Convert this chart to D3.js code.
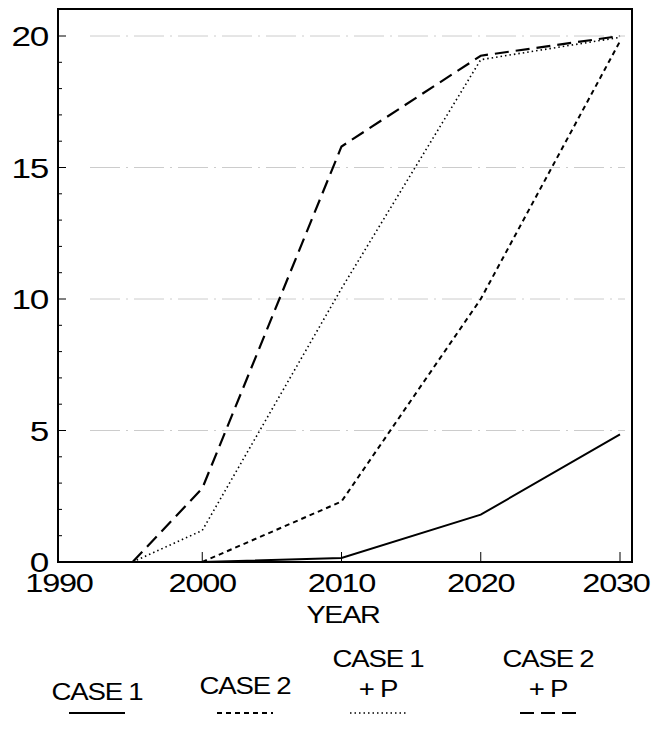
<!DOCTYPE html>
<html><head><meta charset="utf-8">
<script src="https://cdn.jsdelivr.net/npm/d3@7"></script>
<style>body{margin:0;background:#fff}text{font-family:"Liberation Sans",Arial,sans-serif;fill:#000}</style>
</head><body><svg id="c" width="669" height="743"></svg>
<script>
const years = [1990, 2000, 2010, 2020, 2030];
const yTicks = [0, 5, 10, 15, 20];
const case1 = [[1990, 0], [2000, 0], [2010, 0.15], [2020, 1.8], [2030, 4.85]];
const case2 = [[2000, 0], [2010, 2.3], [2020, 10], [2030, 19.8]];
const case1P = [[1995, 0], [2000, 1.2], [2010, 10.4], [2020, 19.1], [2030, 19.95]];
const case2P = [[1995, 0], [2000, 2.8], [2010, 15.8], [2020, 19.25], [2030, 20]];
const seriesNames = [["CASE 1"], ["CASE 2"], ["CASE 1", "+ P"], ["CASE 2", "+ P"]];

const svg = d3.select("#c");
const x = d3.scaleLinear().domain([1990, 2030]).range([63, 620]);
const y = d3.scaleLinear().domain([0, 20]).range([562, 36]);
const styles = [
  {dash: null, w: 2},
  {dash: "5,4", w: 2},
  {dash: "1.5,3", w: 1.6},
  {dash: "14,7", w: 2.2}
];

// stretched text helper (reference type is wide)
function label(px, py, t, size, anchor, sx) {
  svg.append("text")
    .attr("transform", `translate(${px},${py}) scale(${sx || 1.3},1)`)
    .attr("text-anchor", anchor || "middle")
    .style("font-size", size + "px").style("letter-spacing", "-1px").text(t);
}

// faint grid
svg.selectAll(".grid").data(yTicks.slice(1)).enter().append("line")
  .attr("x1", 90).attr("x2", 625)
  .attr("y1", d => y(d)).attr("y2", d => y(d))
  .attr("stroke", "#ccc").attr("stroke-width", 1).attr("stroke-dasharray", "30,6,2,6");

// frame
svg.append("rect").attr("x", 58).attr("y", 9).attr("width", 574).attr("height", 553)
  .attr("fill", "none").attr("stroke", "#000").attr("stroke-width", 2);

// y minor ticks
svg.selectAll(".yt").data(d3.range(0, 21)).enter().append("line")
  .attr("x1", 58).attr("x2", d => d % 5 === 0 ? 66 : 62)
  .attr("y1", d => y(d)).attr("y2", d => y(d))
  .attr("stroke", "#000").attr("stroke-width", 1);
yTicks.forEach(d => label(48, y(d) + 10, d, 27, "end", 1.3));

// x ticks
svg.selectAll(".xt").data(years.slice(1)).enter().append("line")
  .attr("x1", d => x(d)).attr("x2", d => x(d))
  .attr("y1", 562).attr("y2", 552).attr("stroke", "#000").attr("stroke-width", 1);
years.forEach(d => label(x(d) - (d === 1990 ? 4 : 0) - (d === 2030 ? 4 : 0), 592, d, 26, "middle", 1.25));
label(343, 623, "YEAR", 23, "middle", 1.25);

const line = d3.line().x(d => x(d[0])).y(d => y(d[1]));
[case1, case2, case1P, case2P].forEach((s, i) => {
  svg.append("path").datum(s).attr("d", line).attr("fill", "none")
    .attr("stroke", "#000").attr("stroke-width", styles[i].w)
    .attr("stroke-dasharray", styles[i].dash);
});

// legend
const legX = [97, 245, 378, 548];
seriesNames.forEach((lines, i) => {
  lines.forEach((t, j) => {
    const base = i === 0 ? 700 : i === 1 ? 694 : 697;
    label(legX[i], base - (lines.length - 1 - j) * 30, t, 23, "middle", 1.2);
  });
  svg.append("line").attr("x1", legX[i] - 28).attr("x2", legX[i] + 28)
    .attr("y1", 713).attr("y2", 713).attr("stroke", "#000")
    .attr("stroke-width", styles[i].w).attr("stroke-dasharray", styles[i].dash);
});
</script></body></html>
